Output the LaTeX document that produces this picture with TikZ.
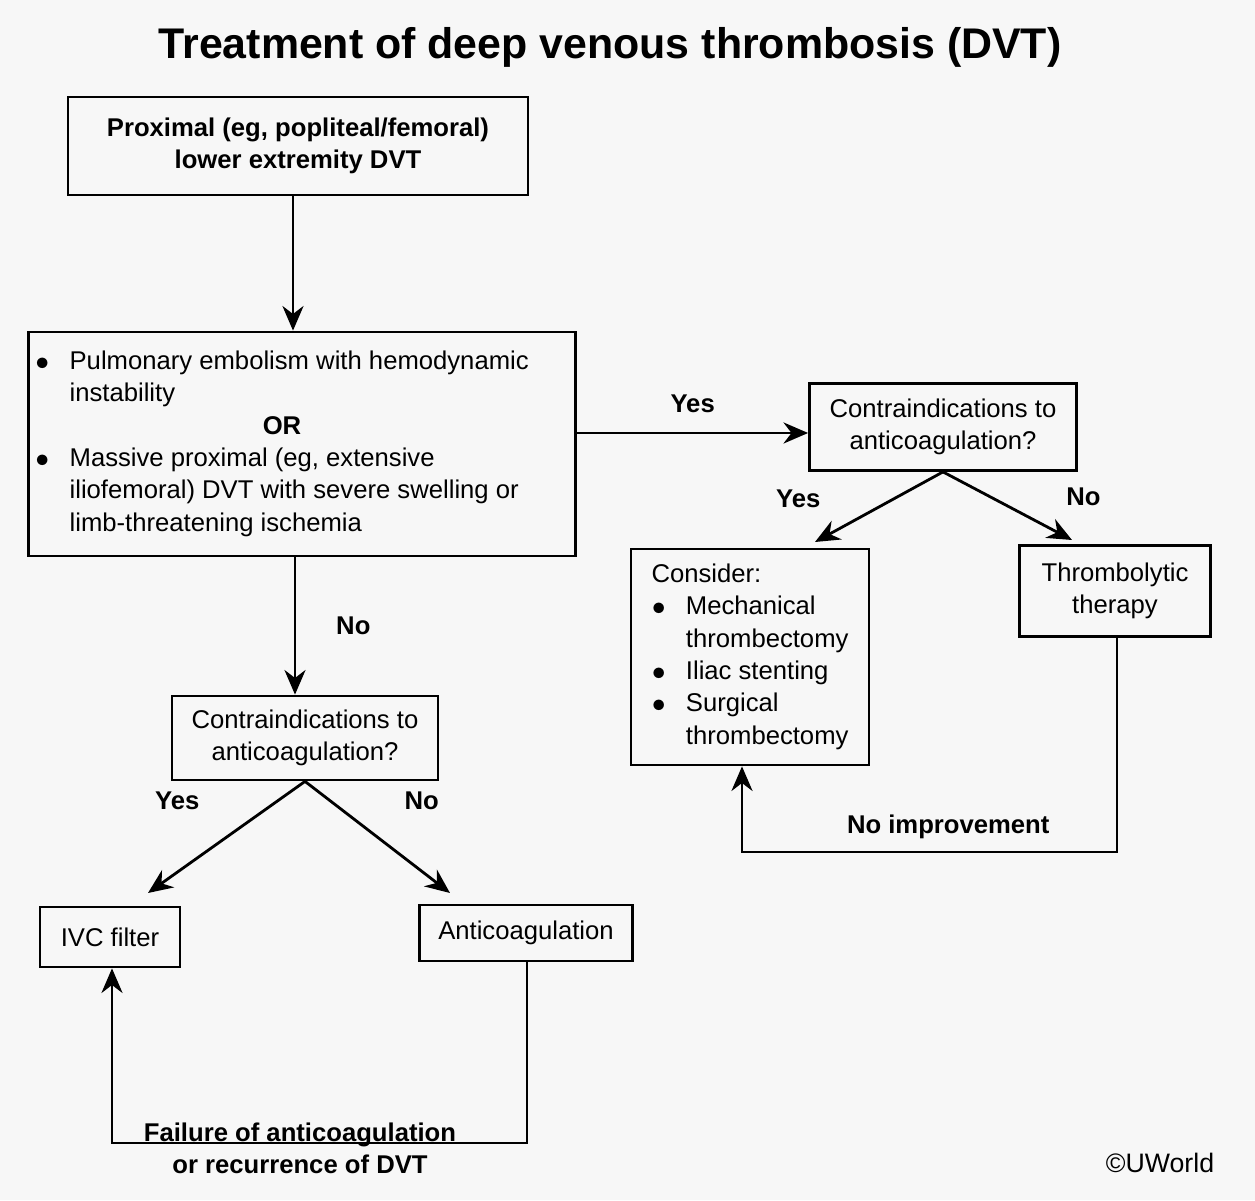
\documentclass[tikz,border=0pt]{standalone}
\usepackage{fontspec}
\setmainfont{Liberation Sans}
\usetikzlibrary{arrows.meta}
\tikzset{box/.style={draw,thick,align=center,inner sep=2pt,font=\fontsize{7.3}{9.2}\selectfont},
	lbl/.style={font=\fontsize{7.3}{9.2}\selectfont\bfseries},
	arr/.style={thick,-{Stealth[length=7pt,width=6pt]}}}

\begin{document}
\begin{tikzpicture}
	\useasboundingbox[fill=gray!6] (0,0) rectangle (12.55,12);
	
	\node[font=\fontsize{12.2}{14}\selectfont\bfseries] at (6.1,11.53) (title) {Treatment of deep venous thrombosis (DVT)};
	\node[font=\fontsize{7.6}{9}\selectfont] at (11.6,0.37) (copy) {\copyright UWorld};
	
	\node[box,minimum width=4.6cm,minimum height=0.98cm,font=\fontsize{7.3}{9.2}\selectfont\bfseries] at (2.98,10.54) (prox) {Proximal (eg, popliteal/femoral)\\lower extremity DVT};
	\node[box,minimum width=5.4cm,minimum height=2.24cm,align=left] at (3.02,7.56) (pe) {%
		\begin{tabular}{@{}l@{\hspace{0.2cm}}l@{}}
		$\bullet$ & Pulmonary embolism with hemodynamic\\
		& instability\\
		\multicolumn{2}{c}{\bfseries OR}\\
		$\bullet$ & Massive proximal (eg, extensive\\
		& iliofemoral) DVT with severe swelling or\\
		& limb-threatening ischemia
		\end{tabular}\hspace{0.4cm}};
	\node[box,minimum width=2.67cm,minimum height=0.87cm] at (9.43,7.73) (ciR) {Contraindications to\\anticoagulation?};
	\node[box,minimum width=2.38cm,minimum height=2.16cm,align=left] at (7.5,5.43) (cons) {%
		\begin{tabular}{@{}l@{\hspace{0.2cm}}l@{}}
		\multicolumn{2}{@{}l}{Consider:}\\
		$\bullet$ & Mechanical\\
		& thrombectomy\\
		$\bullet$ & Iliac stenting\\
		$\bullet$ & Surgical\\
		& thrombectomy
		\end{tabular}};
	\node[box,minimum width=1.91cm,minimum height=0.91cm] at (11.15,6.09) (thromb) {Thrombolytic\\therapy};
	\node[box,minimum width=2.66cm,minimum height=0.84cm] at (3.05,4.62) (ciL) {Contraindications to\\anticoagulation?};
	\node[box,minimum width=1.4cm,minimum height=0.6cm] at (1.10,2.63) (ivc) {IVC filter};
	\node[box,minimum width=2.13cm,minimum height=0.56cm] at (5.26,2.67) (anti) {Anticoagulation};
	
	\coordinate (tbot) at (11.17,3.48);
	\coordinate (cbot) at (7.42,3.48);
	\coordinate (abot) at (5.27,0.57);
	\coordinate (ibot) at (1.12,0.57);
	\coordinate (yR) at (8.15,6.58);
	\coordinate (nR) at (10.72,6.6);
	\coordinate (yL) at (1.48,3.07);
	\coordinate (nL) at (4.5,3.07);
	
	\draw[arr] (prox.south -| 2.93,0) -- (pe.north -| 2.93,0);
	\draw[arr] (pe.east |- 0,7.67) -- (ciR.west |- 0,7.67) node[lbl,midway,above=2pt] {Yes};
	\draw[arr] (pe.south -| 2.95,0) -- (ciL.north -| 2.95,0) node[lbl,midway,right=8pt] {No};
	\draw[arr] (ciR.south) -- (yR) node[lbl,pos=0.8,above left=2pt] {Yes};
	\draw[arr] (ciR.south) -- (nR) node[lbl,pos=0.8,above right=2pt] {No};
	\draw[arr] (ciL.south) -- (yL) node[lbl,pos=0.5,above left=4pt] {Yes};
	\draw[arr] (ciL.south) -- (nL) node[lbl,pos=0.5,above right=4pt] {No};
	\draw[arr] (thromb.south -| tbot) -- (tbot) -- (cbot) node[lbl,pos=0.45,above] {No improvement} -- (cons.south -| cbot);
	\draw[arr] (anti.south -| abot) -- (abot) -- (ibot) -- (ivc.south -| ibot);
	\node[lbl,align=center] at (3.0,0.52) (fail) {Failure of anticoagulation\\or recurrence of DVT};
\end{tikzpicture}
\end{document}
